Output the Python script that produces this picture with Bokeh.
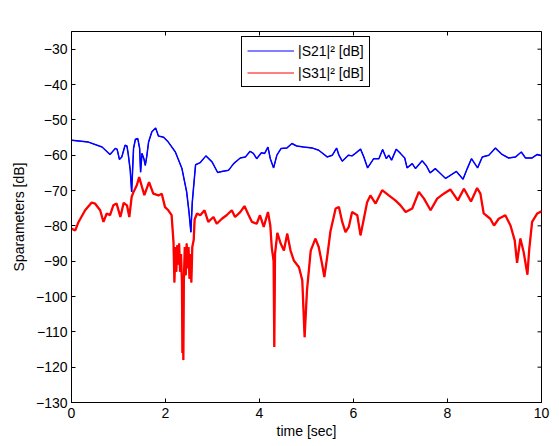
from bokeh.plotting import figure
from bokeh.models import Range1d, FixedTicker, CustomJSTickFormatter, Legend, LegendItem, Label
from bokeh.embed import file_html
from bokeh.resources import INLINE

# ---- data ----
t_s21 = [0.01, 0.36, 0.65, 0.82, 0.93, 0.97, 1.02, 1.07, 1.14, 1.18, 1.21, 1.25, 1.28, 1.32,
         1.36, 1.41, 1.45, 1.47, 1.50, 1.54, 1.57, 1.60, 1.64, 1.71, 1.79, 1.85, 1.96, 2.06,
         2.21, 2.35, 2.45, 2.50, 2.54, 2.57, 2.62, 2.64, 2.74, 2.86, 2.99, 3.11, 3.20, 3.34,
         3.45, 3.59, 3.70, 3.80, 3.87, 3.94, 4.04, 4.11, 4.18, 4.23, 4.30, 4.37, 4.46, 4.58,
         4.69, 4.79, 4.94, 5.13, 5.26, 5.44, 5.55, 5.64, 5.69, 5.76, 5.89, 5.97, 6.04, 6.15,
         6.22, 6.30, 6.43, 6.54, 6.62, 6.70, 6.75, 6.81, 6.91, 7.00, 7.09, 7.14, 7.25, 7.32,
         7.46, 7.55, 7.63, 7.74, 7.85, 7.96, 8.06, 8.19, 8.33, 8.42, 8.51, 8.64, 8.74, 8.88,
         9.02, 9.16, 9.30, 9.45, 9.57, 9.66, 9.80, 9.91, 10.0]
s21_db = [-55.8, -56.3, -57.7, -59.8, -58.1, -58.3, -61.2, -60.5, -57.2, -57.4, -60.0, -64.3,
          -70.4, -58.1, -55.5, -55.3, -58.1, -64.8, -59.5, -61.0, -62.9, -60.5, -56.3, -53.4,
          -52.3, -54.6, -54.9, -56.3, -59.1, -63.8, -70.4, -76.1, -81.8, -73.3, -65.7, -62.7,
          -62.1, -60.2, -61.9, -64.9, -64.6, -64.3, -62.4, -60.8, -60.5, -58.9, -59.5, -61.0,
          -59.3, -59.5, -57.7, -61.0, -63.6, -60.0, -58.1, -58.0, -56.7, -57.4, -57.7, -58.0,
          -58.6, -60.5, -60.0, -58.0, -60.0, -61.7, -60.0, -60.2, -59.5, -58.3, -60.5, -63.6,
          -61.0, -61.0, -58.4, -61.0, -60.0, -61.4, -58.3, -59.5, -60.8, -63.6, -62.4, -63.8,
          -61.6, -63.0, -65.0, -63.8, -65.2, -66.6, -65.7, -64.6, -66.8, -63.8, -61.0, -63.6,
          -60.5, -60.0, -58.0, -59.8, -60.8, -60.5, -59.1, -60.8, -60.8, -59.8, -60.2]

t_s31 = [0.0, 0.08, 0.15, 0.29, 0.43, 0.50, 0.61, 0.68, 0.75, 0.82, 0.89, 0.96, 1.04, 1.11,
         1.18, 1.23, 1.28, 1.32, 1.39, 1.44, 1.50, 1.55, 1.65, 1.74, 1.85, 1.92, 1.99, 2.06,
         2.13, 2.17, 2.19, 2.21, 2.23, 2.25, 2.27, 2.29, 2.31, 2.33, 2.35, 2.36, 2.37, 2.38,
         2.39, 2.41, 2.43, 2.45, 2.47, 2.49, 2.51, 2.53, 2.55, 2.57, 2.60, 2.62, 2.67, 2.74,
         2.83, 2.91, 3.02, 3.09, 3.20, 3.30, 3.41, 3.48, 3.59, 3.68, 3.77, 3.84, 3.94, 4.01,
         4.09, 4.18, 4.23, 4.26, 4.30, 4.315, 4.33, 4.38, 4.45, 4.52, 4.59, 4.66, 4.73, 4.84,
         4.91, 4.96, 5.01, 5.09, 5.19, 5.26, 5.33, 5.38, 5.44, 5.51, 5.62, 5.69, 5.76, 5.83,
         5.90, 5.97, 6.08, 6.15, 6.22, 6.29, 6.36, 6.47, 6.61, 6.75, 6.89, 7.00, 7.11, 7.25,
         7.39, 7.50, 7.64, 7.78, 7.92, 8.06, 8.22, 8.35, 8.50, 8.63, 8.70, 8.77, 8.91, 8.99,
         9.09, 9.23, 9.34, 9.43, 9.48, 9.55, 9.62, 9.70, 9.74, 9.80, 9.91, 10.0]
s31_db = [-80.8, -81.3, -78.9, -75.6, -73.4, -73.7, -75.6, -78.9, -76.5, -77.0, -74.2, -73.7,
          -77.5, -73.5, -74.2, -77.5, -71.8, -70.4, -68.5, -66.2, -69.0, -71.3, -67.6, -70.9,
          -71.4, -70.9, -74.7, -75.6, -77.0, -84.6, -96.0, -86.0, -93.0, -85.5, -91.0, -85.0,
          -93.0, -88.0, -96.0, -116.0, -100.0, -118.0, -96.0, -86.0, -94.0, -85.0, -92.0,
          -86.0, -95.0, -88.0, -96.0, -86.0, -84.0, -78.2, -76.5, -77.0, -75.6, -78.9, -77.5,
          -79.4, -78.0, -77.0, -75.6, -77.5, -76.1, -74.4, -77.0, -78.9, -79.4, -77.0, -80.3,
          -76.1, -79.9, -86.0, -90.0, -114.3, -88.0, -82.0, -85.0, -87.0, -82.2, -87.0, -89.8,
          -91.7, -95.4, -111.5, -98.3, -87.0, -83.6, -86.0, -90.7, -94.5, -88.8, -81.5, -75.1,
          -74.7, -78.9, -81.8, -80.3, -76.1, -77.0, -82.7, -78.0, -73.3, -71.4, -73.7, -69.9,
          -71.4, -72.8, -74.2, -76.1, -75.1, -70.4, -72.3, -75.6, -72.3, -70.9, -69.7, -72.8,
          -69.5, -73.1, -69.3, -70.9, -76.5, -78.0, -79.9, -78.0, -77.0, -79.9, -84.1, -90.5,
          -83.6, -87.4, -93.8, -86.5, -78.9, -76.5, -75.9]

x_ticks = [0, 2, 4, 6, 8, 10]
y_ticks = [-130, -120, -110, -100, -90, -80, -70, -60, -50, -40, -30]
labels = ["|S21|² [dB]", "|S31|² [dB]"]
title_text = "Sparameters [dB]"
x_label = "time [sec]"
y_label = "Sparameters [dB]"

X_MIN, X_MAX = 0, 10
Y_MIN, Y_MAX = -130, -25

FONT = "Liberation Sans"
FS = "14px"

p = figure(width=551, height=444, output_backend="svg", toolbar_location=None,
           x_range=Range1d(X_MIN, X_MAX), y_range=Range1d(Y_MIN, Y_MAX),
           min_border_left=71, min_border_right=10, min_border_top=31, min_border_bottom=42,
           x_axis_label=x_label, y_axis_label=y_label)
p.background_fill_color = "white"
p.border_fill_color = "white"
p.outline_line_color = "black"
p.outline_line_alpha = 1.0
p.outline_line_width = 1
p.xgrid.visible = False
p.ygrid.visible = False

fmt = CustomJSTickFormatter(code="return tick < 0 ? '\\u2212' + Math.abs(tick) : String(tick);")

for ax, ticks in ((p.xaxis[0], x_ticks), (p.yaxis[0], y_ticks)):
    ax.ticker = FixedTicker(ticks=ticks)
    ax.formatter = fmt
    ax.major_tick_in = 4
    ax.major_tick_out = 0
    ax.minor_tick_in = 0
    ax.minor_tick_out = 0
    ax.axis_line_color = "black"
    ax.major_tick_line_color = "black"
    ax.major_label_text_font = FONT
    ax.major_label_text_font_size = FS
    ax.major_label_text_color = "black"
    ax.axis_label_text_font = FONT
    ax.axis_label_text_font_size = FS
    ax.axis_label_text_font_style = "normal"
    ax.axis_label_text_color = "black"

p.xaxis[0].major_label_standoff = 5
p.xaxis[0].axis_label_standoff = 2
p.yaxis[0].major_label_standoff = 4
p.yaxis[0].axis_label_standoff = 6

# inward ticks on the top and right edges of the box (clipped to the frame)
p.scatter(x=x_ticks, y=[Y_MAX] * len(x_ticks), marker="dash", angle=1.5708, size=8,
          line_color="black", line_width=1)
p.scatter(x=[X_MAX] * len(y_ticks), y=y_ticks, marker="dash", size=8,
          line_color="black", line_width=1)

# thin versions (used for the legend samples) and the plotted traces
l21 = p.line(t_s21, s21_db, line_color="#0000ff", line_width=1)
l31 = p.line(t_s31, s31_db, line_color="#ff0000", line_width=1)
r31 = p.line(t_s31, s31_db, line_color="#ff0000", line_width=2.3)
r21 = p.line(t_s21, s21_db, line_color="#0000ff", line_width=1.5)

legend = Legend(items=[LegendItem(label=labels[0], renderers=[l21]),
                       LegendItem(label=labels[1], renderers=[l31])],
                location=(170, 315), margin=0, padding=5, spacing=5,
                glyph_width=47, glyph_height=17, label_height=17, label_standoff=4,
                label_text_font=FONT, label_text_font_size=FS, label_text_color="black",
                border_line_color="black", border_line_alpha=1.0, border_line_width=1,
                background_fill_color="white", background_fill_alpha=1.0)
p.add_layout(legend, "center")

p.add_layout(Label(x=(X_MIN + X_MAX) / 2, y=Y_MAX, y_offset=16, text=title_text,
                   text_align="center", text_baseline="middle", text_font=FONT,
                   text_font_size=FS, text_color="black"))

open("out.html", "w").write(file_html(p, INLINE))
